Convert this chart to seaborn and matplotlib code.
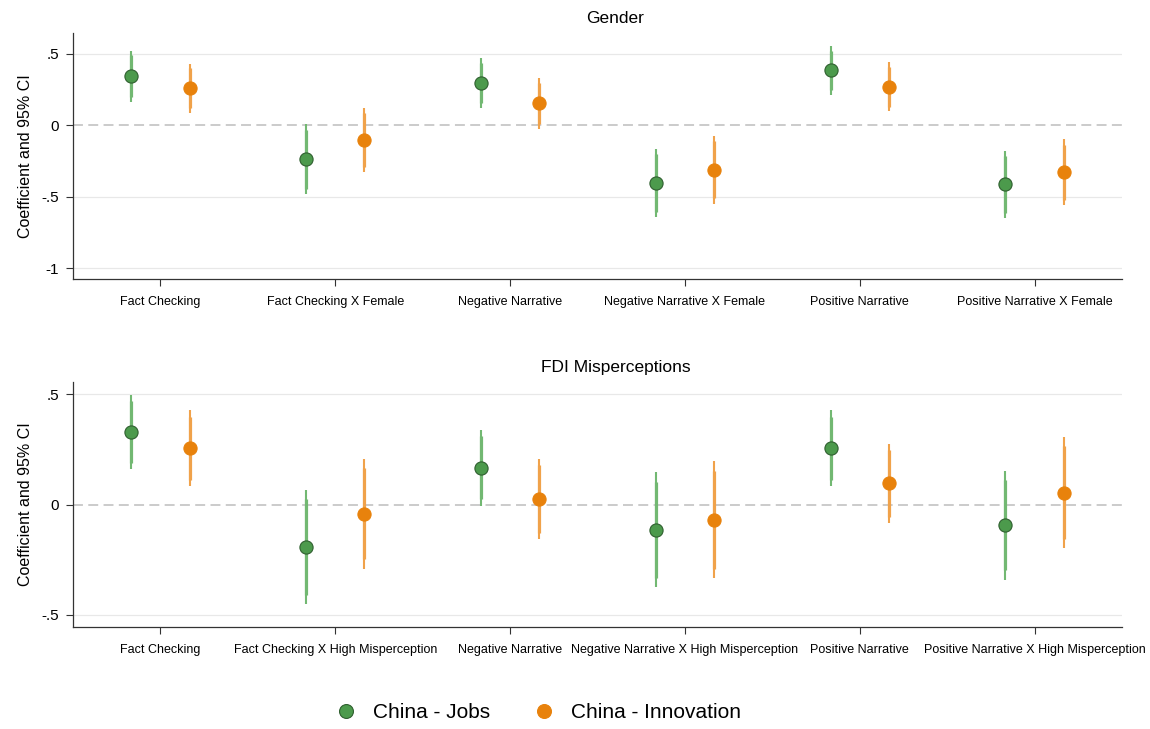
import numpy as np
import pandas as pd
import matplotlib
matplotlib.use("Agg")
import matplotlib.pyplot as plt
from matplotlib.lines import Line2D
import seaborn as sns

# categories
gender_terms = ["Fact Checking", "Fact Checking X Female", "Negative Narrative",
                "Negative Narrative X Female", "Positive Narrative", "Positive Narrative X Female"]
fdi_terms = ["Fact Checking", "Fact Checking X High Misperception", "Negative Narrative",
             "Negative Narrative X High Misperception", "Positive Narrative",
             "Positive Narrative X High Misperception"]
models = ["China - Jobs", "China - Innovation"]

# Gender panel (coef, 95% CI, 90% CI)
gender_jobs_b = [0.345, -0.234, 0.300, -0.404, 0.385, -0.413]
gender_jobs_lo95 = [0.164, -0.481, 0.124, -0.646, 0.215, -0.648]
gender_jobs_hi95 = [0.524, 0.008, 0.472, -0.163, 0.554, -0.178]
gender_jobs_lo90 = [0.196, -0.443, 0.159, -0.606, 0.248, -0.611]
gender_jobs_hi90 = [0.495, -0.030, 0.436, -0.203, 0.524, -0.218]
gender_innov_b = [0.260, -0.105, 0.154, -0.312, 0.272, -0.328]
gender_innov_lo95 = [0.088, -0.330, -0.027, -0.551, 0.098, -0.559]
gender_innov_hi95 = [0.432, 0.124, 0.331, -0.073, 0.441, -0.098]
gender_innov_lo90 = [0.119, -0.293, 0.008, -0.512, 0.131, -0.521]
gender_innov_hi90 = [0.400, 0.084, 0.295, -0.108, 0.408, -0.135]

# FDI misperceptions panel
fdi_jobs_b = [0.329, -0.192, 0.166, -0.115, 0.255, -0.095]
fdi_jobs_lo95 = [0.163, -0.450, -0.006, -0.376, 0.085, -0.340]
fdi_jobs_hi95 = [0.495, 0.065, 0.337, 0.147, 0.426, 0.150]
fdi_jobs_lo90 = [0.189, -0.408, 0.023, -0.335, 0.110, -0.299]
fdi_jobs_hi90 = [0.468, 0.023, 0.310, 0.104, 0.397, 0.109]
fdi_innov_b = [0.257, -0.042, 0.026, -0.068, 0.097, 0.054]
fdi_innov_lo95 = [0.085, -0.292, -0.157, -0.332, -0.083, -0.198]
fdi_innov_hi95 = [0.427, 0.207, 0.205, 0.196, 0.276, 0.307]
fdi_innov_lo90 = [0.113, -0.249, -0.127, -0.292, -0.056, -0.157]
fdi_innov_hi90 = [0.397, 0.165, 0.178, 0.154, 0.246, 0.266]

point_colors = {"China - Jobs": "#4c9a4c", "China - Innovation": "#e8820c"}
edge_colors = {"China - Jobs": "#2f5f2f", "China - Innovation": "#e8820c"}
line_colors = {"China - Jobs": "#72b872", "China - Innovation": "#f0a24a"}
offsets = {"China - Jobs": -1 / 6, "China - Innovation": 1 / 6}


def make_frame(terms, jobs, innov):
    rows = []
    for model, vals in zip(models, [jobs, innov]):
        b, lo95, hi95, lo90, hi90 = vals
        for i, t in enumerate(terms):
            rows.append({"term": t, "idx": i, "model": model, "b": b[i],
                         "lo95": lo95[i], "hi95": hi95[i], "lo90": lo90[i], "hi90": hi90[i]})
    df = pd.DataFrame(rows)
    df["x"] = df["idx"] + df["model"].map(offsets)
    return df


gender_df = make_frame(gender_terms,
                       (gender_jobs_b, gender_jobs_lo95, gender_jobs_hi95, gender_jobs_lo90, gender_jobs_hi90),
                       (gender_innov_b, gender_innov_lo95, gender_innov_hi95, gender_innov_lo90, gender_innov_hi90))
fdi_df = make_frame(fdi_terms,
                    (fdi_jobs_b, fdi_jobs_lo95, fdi_jobs_hi95, fdi_jobs_lo90, fdi_jobs_hi90),
                    (fdi_innov_b, fdi_innov_lo95, fdi_innov_hi95, fdi_innov_lo90, fdi_innov_hi90))

sns.set_style("ticks")
plt.rcParams['font.family'] = ['Liberation Sans', 'DejaVu Sans']
plt.rcParams['text.color'] = 'black'
plt.rcParams['axes.labelcolor'] = 'black'
plt.rcParams['xtick.color'] = 'black'
plt.rcParams['ytick.color'] = 'black'

fig = plt.figure(figsize=(11.5, 7.29), dpi=100)
ax1 = fig.add_axes([73 / 1150, 1 - 279 / 729, 1049 / 1150, 246 / 729])
ax2 = fig.add_axes([73 / 1150, 1 - 627 / 729, 1049 / 1150, 245 / 729])


def draw_panel(ax, df, terms, title, yticks, ylabels, ylim):
    for y in yticks:
        if y != 0:
            ax.axhline(y, color="#e8e8e8", lw=0.9, zorder=0)
    ax.axhline(0, color="#bdbdbd", lw=1.1, ls=(0, (6.5, 3.5)), zorder=0.5)
    for model in models:
        d = df[df["model"] == model]
        ax.vlines(d["x"], d["lo95"], d["hi95"], color=line_colors[model], lw=1.5, zorder=2)
        ax.vlines(d["x"], d["lo90"], d["hi90"], color=line_colors[model], lw=2.3, zorder=2)
        sns.scatterplot(data=d, x="x", y="b", ax=ax, color=point_colors[model],
                        edgecolor=edge_colors[model], linewidth=0.8, s=90, zorder=3, legend=False)
    ax.set_xlim(-0.5, 5.5)
    ax.set_ylim(*ylim)
    ax.set_xticks(range(len(terms)))
    ax.set_xticklabels(terms, fontsize=9)
    ax.set_yticks(yticks)
    ax.set_yticklabels(ylabels, fontsize=11)
    ax.set_xlabel("")
    ax.set_ylabel("Coefficient and 95% CI", fontsize=11.5, labelpad=6)
    ax.tick_params(axis="both", direction="out", length=5, width=0.8, color="#333333", pad=5)
    ax.tick_params(axis="x", pad=7)
    for s in ["top", "right"]:
        ax.spines[s].set_visible(False)
    for s in ["left", "bottom"]:
        ax.spines[s].set_color("#333333")
        ax.spines[s].set_linewidth(0.9)
    ax.text(0.517, 1.028, title, transform=ax.transAxes, ha="center", va="bottom", fontsize=12.5)


draw_panel(ax1, gender_df, gender_terms, "Gender",
           [0.5, 0, -0.5, -1], [".5", "0", "-.5", "-1"], (-1.077, 0.647))
draw_panel(ax2, fdi_df, fdi_terms, "FDI Misperceptions",
           [0.5, 0, -0.5], [".5", "0", "-.5"], (-0.555, 0.555))

handles = [Line2D([], [], ls="none", marker="o", ms=10, color=point_colors[m],
                  markeredgecolor=edge_colors[m], markeredgewidth=0.8) for m in models]
fig.legend(handles, models, loc="center", bbox_to_anchor=(533 / 1150, 1 - 713 / 729),
           ncol=2, frameon=False, fontsize=15, handletextpad=0.3, columnspacing=1.6)

fig.savefig("out.png", dpi=100)
